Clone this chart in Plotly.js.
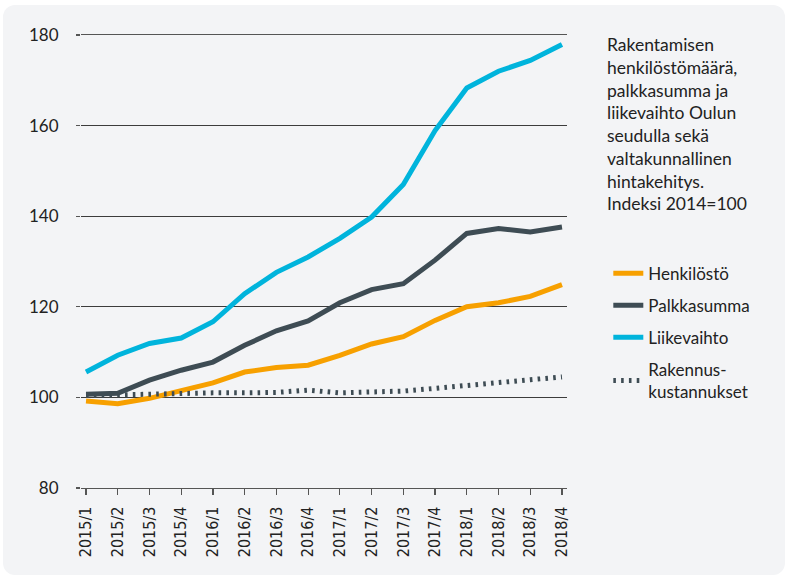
<!DOCTYPE html>
<html>
<head>
<meta charset="utf-8">
<script src="https://cdn.plot.ly/plotly-3.0.1.min.js"></script>
<style>
  html, body { margin: 0; padding: 0; background: #ffffff; }
  #panel { position: absolute; left: 3px; top: 5px; width: 782px; height: 570px;
           background: #f3f4f6; border-radius: 12px; overflow: hidden; }
  #chart { width: 782px; height: 570px; }
</style>
</head>
<body>
<div id="panel"><div id="chart"></div></div>
<script>
// Categories (quarters)
const quarters = ["2015/1","2015/2","2015/3","2015/4","2016/1","2016/2","2016/3","2016/4",
                  "2017/1","2017/2","2017/3","2017/4","2018/1","2018/2","2018/3","2018/4"];

// Series (index 2014 = 100)
const henkilosto   = [99.2, 98.6, 99.8, 101.4, 103.2, 105.6, 106.6, 107.1, 109.3, 111.8, 113.4, 117.0, 120.0, 120.9, 122.3, 124.9];
const palkkasumma  = [100.7, 100.9, 103.8, 106.0, 107.8, 111.5, 114.7, 116.9, 120.9, 123.8, 125.1, 130.3, 136.2, 137.3, 136.5, 137.6];
const liikevaihto  = [105.6, 109.3, 111.9, 113.1, 116.7, 122.9, 127.6, 131.0, 135.1, 139.8, 147.0, 158.9, 168.3, 172.0, 174.4, 177.9];
const rakennuskust = [100.4, 100.6, 100.7, 100.9, 101.0, 101.0, 101.1, 101.6, 101.0, 101.2, 101.4, 102.0, 102.7, 103.4, 103.9, 104.5];

const seriesNames = ["Henkilöstö", "Palkkasumma", "Liikevaihto", "Rakennus-<br>kustannukset"];
const yTicks = [80, 100, 120, 140, 160, 180];

const titleLines = ["Rakentamisen", "henkilöstömäärä,", "palkkasumma ja", "liikevaihto Oulun",
                    "seudulla sekä", "valtakunnallinen", "hintakehitys.", "Indeksi 2014=100"];

const xIdx = quarters.map((q, i) => i);

const traces = [
  { x: xIdx, y: henkilosto, name: seriesNames[0], type: "scatter", mode: "lines",
    line: { color: "#f7a000", width: 5 }, legendrank: 1, legendgroup: "a" },
  { x: xIdx, y: rakennuskust, name: seriesNames[3], type: "scatter", mode: "lines",
    line: { color: "#3e4c54", width: 5, dash: "2.6px,5.2px" }, legendrank: 4, legendgroup: "d" },
  { x: xIdx, y: palkkasumma, name: seriesNames[1], type: "scatter", mode: "lines",
    line: { color: "#3e4c54", width: 5 }, legendrank: 2, legendgroup: "b" },
  { x: xIdx, y: liikevaihto, name: seriesNames[2], type: "scatter", mode: "lines",
    line: { color: "#00b4dc", width: 5 }, legendrank: 3, legendgroup: "c" }
];

const layout = {
  width: 782, height: 570,
  margin: { l: 78, r: 218, t: 30, b: 87 },
  paper_bgcolor: "rgba(0,0,0,0)",
  plot_bgcolor: "rgba(0,0,0,0)",
  font: { family: "Lato, 'Open Sans', sans-serif", color: "#222222", size: 17 },
  showlegend: true,
  legend: {
    x: 1.085, xanchor: "left", y: 0.513, yanchor: "top",
    bgcolor: "rgba(0,0,0,0)",
    font: { family: "Lato, sans-serif", size: 17, color: "#222222" },
    tracegroupgap: 7,
    traceorder: "grouped"
  },
  xaxis: {
    range: [-0.158, 15.158],
    tickmode: "array",
    tickvals: xIdx,
    ticktext: quarters,
    tickangle: -90,
    ticks: "outside", ticklen: 6, tickwidth: 1.2, tickcolor: "#555555",
    ticklabelstandoff: 5,
    tickfont: { family: "'Liberation Sans Narrow', 'Arial Narrow', 'DejaVu Sans Condensed', sans-serif", size: 16, color: "#222222" },
    showgrid: false, zeroline: false,
    showline: true, mirror: true, linecolor: "#555555", linewidth: 1.2,
    fixedrange: true
  },
  yaxis: {
    range: [80, 180],
    tickmode: "array",
    tickvals: yTicks,
    ticks: "outside", ticklen: 4, tickwidth: 1.2, tickcolor: "#555555",
    ticklabelstandoff: 14,
    tickfont: { family: "Lato, sans-serif", size: 17, color: "#222222" },
    showgrid: true, gridcolor: "#3c3c3c", gridwidth: 1.2,
    zeroline: false, showline: false, fixedrange: true
  },
  annotations: [{
    xref: "paper", yref: "paper",
    x: 1.078, y: 1.007, xanchor: "left", yanchor: "top",
    align: "left", showarrow: false,
    text: titleLines.join("<br>"),
    font: { family: "Lato, sans-serif", size: 17.5, color: "#222222" }
  }]
};

Plotly.newPlot("chart", traces, layout, { displayModeBar: false, staticPlot: true });
</script>
</body>
</html>
